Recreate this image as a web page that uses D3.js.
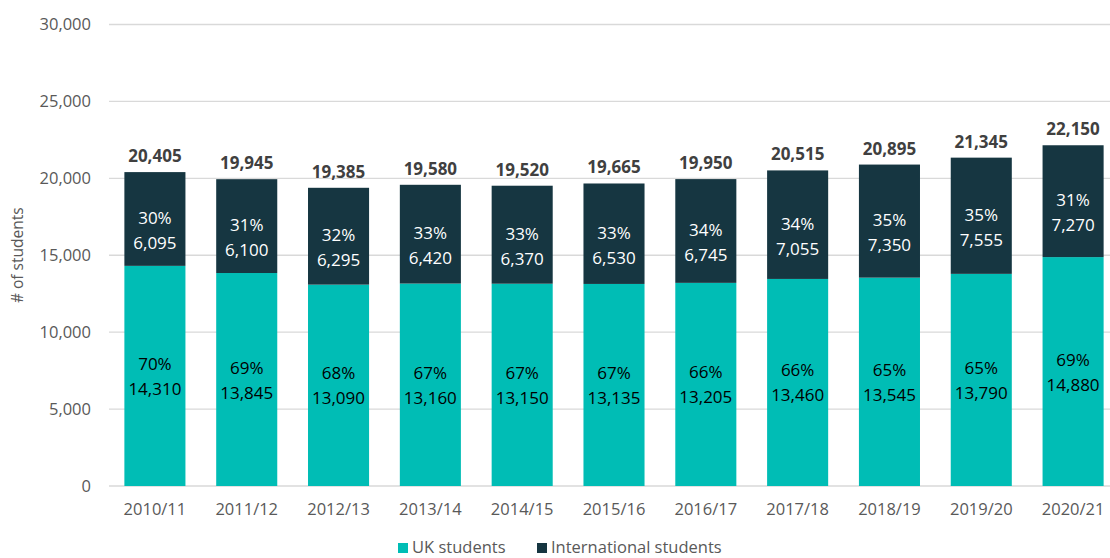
<!DOCTYPE html>
<html>
<head>
<meta charset="utf-8">
<script src="https://cdn.jsdelivr.net/npm/d3@7"></script>
<style>
  html, body { margin: 0; padding: 0; background: #fff; }
  svg { display: block; font-family: "Open Sans", "Noto Sans", sans-serif; }
</style>
</head>
<body>
<svg id="chart" width="1110" height="558"></svg>
<script>
// Student numbers by academic year
const years = ["2010/11","2011/12","2012/13","2013/14","2014/15","2015/16","2016/17","2017/18","2018/19","2019/20","2020/21"];
const ukStudents = [14310,13845,13090,13160,13150,13135,13205,13460,13545,13790,14880];
const intlStudents = [6095,6100,6295,6420,6370,6530,6745,7055,7350,7555,7270];
const totals = [20405,19945,19385,19580,19520,19665,19950,20515,20895,21345,22150];
const ukShare = ["70%","69%","68%","67%","67%","67%","66%","66%","65%","65%","69%"];
const intlShare = ["30%","31%","32%","33%","33%","33%","34%","34%","35%","35%","31%"];
const yTicks = [0,5000,10000,15000,20000,25000,30000];
const seriesNames = ["UK students","International students"];
const colors = ["#00BDB5","#163641"];

const svg = d3.select("#chart");

const x = d3.scaleBand().domain(years).range([109, 1119]).paddingInner(0.335).paddingOuter(0.1675);
const y = d3.scaleLinear().domain([0, 30000]).range([486, 24.5]);
const fmt = d3.format(",");

// gridlines
svg.append("g").selectAll("line").data(yTicks).join("line")
  .attr("x1", 109).attr("x2", 1110)
  .attr("y1", d => y(d)).attr("y2", d => y(d))
  .attr("stroke", "#d9d9d9").attr("stroke-width", 1.3);

// y axis labels
const yAxis = svg.append("g").attr("transform", "translate(91,0)")
  .call(d3.axisLeft(y).tickValues(yTicks).tickFormat(fmt).tickSize(0).tickPadding(0));
yAxis.select(".domain").remove();
yAxis.selectAll("text").attr("fill", "#595959").style("font-size", "16.5px")
  .style("font-family", "'Open Sans', sans-serif");

// x axis labels
const xAxis = svg.append("g").attr("transform", "translate(0,486)")
  .call(d3.axisBottom(x).tickSize(0).tickPadding(17));
xAxis.select(".domain").remove();
xAxis.selectAll("text").attr("fill", "#595959").style("font-size", "16.5px")
  .style("font-family", "'Open Sans', sans-serif");

// y axis title
svg.append("text")
  .attr("transform", `translate(23,${(y(0) + y(30000)) / 2}) rotate(-90)`)
  .attr("text-anchor", "middle").attr("fill", "#595959").style("font-size", "15.5px")
  .text("# of students");

const rows = years.map((yr, i) => ({ yr, uk: ukStudents[i], intl: intlStudents[i], total: totals[i], ukP: ukShare[i], intlP: intlShare[i] }));

// UK segments
svg.append("g").selectAll("rect").data(rows).join("rect")
  .attr("x", d => x(d.yr)).attr("width", x.bandwidth())
  .attr("y", d => y(d.uk)).attr("height", d => y(0) - y(d.uk))
  .attr("fill", colors[0]);

// International segments
svg.append("g").selectAll("rect").data(rows).join("rect")
  .attr("x", d => x(d.yr)).attr("width", x.bandwidth())
  .attr("y", d => y(d.uk + d.intl)).attr("height", d => y(d.uk) - y(d.uk + d.intl))
  .attr("fill", colors[1]);

function segLabel(g, cx, cy, pct, val, color) {
  const t = g.append("text").attr("text-anchor", "middle").attr("fill", color).style("font-size", "17px");
  t.append("tspan").attr("x", cx).attr("y", cy - 6).text(pct);
  t.append("tspan").attr("x", cx).attr("y", cy + 19).text(fmt(val));
}

const labels = svg.append("g");
rows.forEach(d => {
  const cx = x(d.yr) + x.bandwidth() / 2;
  segLabel(labels, cx, (y(0) + y(d.uk)) / 2, d.ukP, d.uk, "#000000");
  segLabel(labels, cx, (y(d.uk) + y(d.uk + d.intl)) / 2 + 11, d.intlP, d.intl, "#ffffff");
  labels.append("text").attr("x", cx).attr("y", y(d.total) - 10)
    .attr("text-anchor", "middle").attr("fill", "#404040")
    .style("font-size", "17px").style("font-weight", "bold")
    .text(fmt(d.total));
});

// legend
const legend = svg.append("g");
const legendItems = [{ name: seriesNames[0], color: colors[0], x: 398 }, { name: seriesNames[1], color: colors[1], x: 537 }];
legendItems.forEach(it => {
  legend.append("rect").attr("x", it.x).attr("y", 543).attr("width", 10).attr("height", 10).attr("fill", it.color);
  legend.append("text").attr("x", it.x + 14).attr("y", 553).attr("fill", "#595959")
    .style("font-size", "16.5px").text(it.name);
});
</script>
</body>
</html>
